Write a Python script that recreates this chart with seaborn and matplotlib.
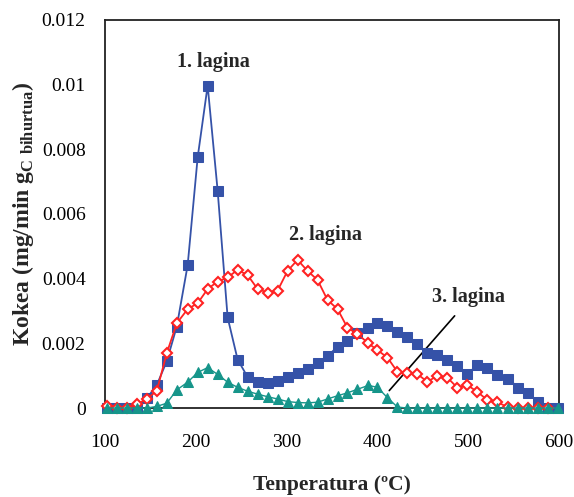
import matplotlib
matplotlib.use('Agg')
import matplotlib.pyplot as plt
from matplotlib.ticker import MultipleLocator, FuncFormatter
import seaborn as sns

# Temperatures (ºC) and coke rates for the three layers
temps = [102, 113, 124, 135, 146, 157, 168, 179, 191, 202, 213, 224, 235, 246,
         257, 268, 279, 290, 301, 312, 323, 334, 345, 356, 367, 378, 390, 400,
         411, 422, 433, 444, 455, 466, 477, 488, 499, 510, 521, 532, 544, 555,
         566, 577, 588, 599]

lagina1 = [0, 0, 0, 0, 0.0003, 0.00071, 0.00145, 0.00252, 0.00442, 0.00775,
           0.00997, 0.00672, 0.0028, 0.0015, 0.00096, 0.0008, 0.00076, 0.00084,
           0.00097, 0.00107, 0.0012, 0.0014, 0.0016, 0.0019, 0.00206, 0.00232,
           0.00246, 0.00263, 0.00255, 0.00236, 0.0022, 0.00198, 0.00169,
           0.00165, 0.00148, 0.00129, 0.00105, 0.00133, 0.00123, 0.00103,
           0.00091, 0.00063, 0.00045, 0.0002, 0, 0]

lagina2 = [0.00006, 0, 0, 0.00012, 0.00028, 0.00053, 0.0017, 0.00262, 0.00306,
           0.00324, 0.00368, 0.00391, 0.00404, 0.00427, 0.00411, 0.00368,
           0.00357, 0.00363, 0.00424, 0.00458, 0.00424, 0.00396, 0.00334,
           0.00306, 0.00248, 0.00229, 0.002, 0.00179, 0.00156, 0.00112, 0.00107,
           0.00105, 0.00081, 0.001, 0.00094, 0.00063, 0.00071, 0.0005, 0.00025,
           0.00018, 0.00002, 0, 0, 0, 0]

lagina3 = [0, 0, 0, 0, 0, 0.00005, 0.00015, 0.00056, 0.0008, 0.0011, 0.00125,
           0.00104, 0.0008, 0.00064, 0.00052, 0.00043, 0.00035, 0.00028, 0.0002,
           0.00017, 0.00016, 0.00018, 0.00028, 0.00038, 0.00047, 0.00058, 0.0007,
           0.00064, 0.00032, 0.00003, 0, 0, 0, 0, 0, 0, 0, 0, 0, 0, 0, 0, 0, 0,
           0, 0]

sns.set_style('white')
plt.rcParams['font.family'] = ['Liberation Serif', 'DejaVu Serif']
plt.rcParams['mathtext.fontset'] = 'custom'
plt.rcParams['mathtext.rm'] = 'Liberation Serif:bold'
plt.rcParams['mathtext.bf'] = 'Liberation Serif:bold'

fig = plt.figure(figsize=(5.74, 4.97), dpi=100)
ax = fig.add_axes([0.183, 0.179, 0.791, 0.781])

blue = '#3552A8'
red = '#FF2222'
green = '#16958A'

sns.lineplot(x=temps, y=lagina1, ax=ax, color=blue, lw=1.3, marker='s',
             markersize=7, markeredgecolor=blue, markerfacecolor=blue,
             clip_on=False, zorder=3)
sns.lineplot(x=temps[:len(lagina2)], y=lagina2, ax=ax, color=red, lw=1.3,
             marker='D', markersize=5.5, markerfacecolor='white',
             markeredgecolor=red, markeredgewidth=1.5, clip_on=False, zorder=4)
sns.lineplot(x=temps, y=lagina3, ax=ax, color=green, lw=1.0, marker='^',
             markersize=7.5, markeredgecolor=green, markerfacecolor=green,
             clip_on=False, zorder=5)

ax.set_xlim(100, 600)
ax.set_ylim(0, 0.012)
ax.xaxis.set_major_locator(MultipleLocator(100))
ax.xaxis.set_minor_locator(MultipleLocator(50))
ax.yaxis.set_major_locator(MultipleLocator(0.002))
ax.yaxis.set_minor_locator(MultipleLocator(0.001))
ax.yaxis.set_major_formatter(FuncFormatter(lambda v, p: '{:g}'.format(round(v, 4))))
ax.tick_params(axis='both', which='both', direction='in', colors='#222222',
               labelcolor='black', labelsize=14)
ax.tick_params(axis='x', which='major', length=6, width=1, pad=19)
ax.tick_params(axis='x', which='minor', length=4, width=1)
ax.tick_params(axis='y', which='major', length=6, width=1, pad=14)
ax.tick_params(axis='y', which='minor', length=4, width=1)
for s in ax.spines.values():
    s.set_color('#222222')
    s.set_linewidth(1.3)

ax.set_xlabel('Tenperatura (ºC)', fontsize=15.5, fontweight='bold', labelpad=17)
ax.set_ylabel(r'Kokea (mg/min g$_{\mathrm{C\ bihurtua}}$)', fontsize=17,
              fontweight='bold', labelpad=4)

ax.text(219, 0.0107, '1. lagina', fontsize=14.5, fontweight='bold',
        ha='center', va='center')
ax.text(343, 0.00535, '2. lagina', fontsize=14.5, fontweight='bold',
        ha='center', va='center')
ax.text(500, 0.00343, '3. lagina', fontsize=14.5, fontweight='bold',
        ha='center', va='center')
ax.plot([485, 413], [0.00285, 0.00054], color='black', lw=1.2)

fig.savefig('out.png', dpi=100)
